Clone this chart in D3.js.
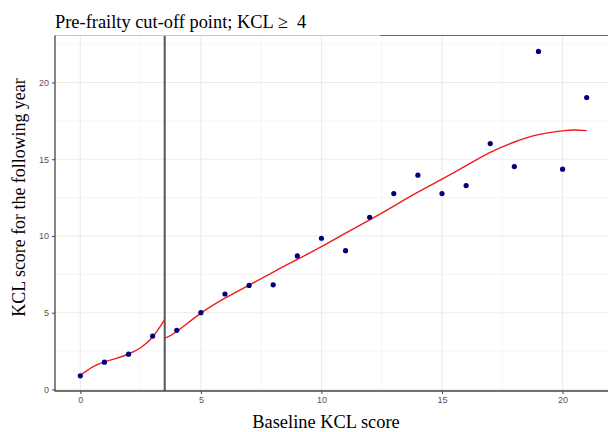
<!DOCTYPE html>
<html>
<head>
<meta charset="utf-8">
<script src="https://cdn.jsdelivr.net/npm/d3@7"></script>
<style>
    body { margin: 0; background: #fff; }
    svg { display: block; }
</style>
</head>
<body>
<svg width="608" height="432"></svg>
<script>
    // baseline KCL score and mean KCL score for the following year
    var baseline  = [0, 1, 2, 3, 4, 5, 6, 7, 8, 9, 10, 11, 12, 13, 14, 15, 16, 17, 18, 19, 20, 21],
        following = [0.89, 1.78, 2.30, 3.48, 3.85, 5.00, 6.22, 6.78, 6.82, 8.70, 9.85,
                     9.04, 11.22, 12.76, 13.96, 12.76, 13.28, 16.02, 14.52, 22.02, 14.35, 19.02];

    // smoothed fit, below and above the cut-off
    var cutOff   = 3.5,
        fitLowX  = [0, 0.5, 1, 1.5, 2, 2.5, 3, 3.5],
        fitLowY  = [0.92, 1.45, 1.80, 2.03, 2.31, 2.72, 3.42, 4.55],
        fitHighX = [3.5, 4, 5, 6, 7, 8, 9, 10, 11, 12, 13, 14, 15, 16, 17, 18, 19, 20, 20.5, 21],
        fitHighY = [3.33, 3.78, 4.97, 5.95, 6.80, 7.65, 8.47, 9.30, 10.18, 11.05, 11.95,
                    12.85, 13.70, 14.58, 15.45, 16.12, 16.60, 16.85, 16.90, 16.86];

    var xTicks = [0, 5, 10, 15, 20],
        yTicks = [0, 5, 10, 15, 20],
        xMinor = [2.5, 7.5, 12.5, 17.5],
        yMinor = [2.5, 7.5, 12.5, 17.5, 22.5];

    (function() {
        var svg     = d3.select("svg"),
            pLeft   = 55,
            pRight  = 612,
            pTop    = 35.5,
            pBottom = 391;

        var x = d3.scaleLinear().domain([-1.05, 22.05]).range([pLeft, pRight]),
            y = d3.scaleLinear().domain([-0.1, 23.06]).range([pBottom, pTop]);

        svg.append("clipPath").attr("id", "panel")
            .append("rect")
            .attr("x", pLeft).attr("y", pTop)
            .attr("width", 608 - pLeft).attr("height", pBottom - pTop);

        var panel = svg.append("g").attr("clip-path", "url(#panel)");

        // grid, minor lines thinner than major
        panel.selectAll(".gx-minor").data(xMinor).enter().append("line")
            .attr("x1", x).attr("x2", x).attr("y1", pTop).attr("y2", pBottom)
            .attr("stroke", "#f0f0f0").attr("stroke-width", 0.6);
        panel.selectAll(".gy-minor").data(yMinor).enter().append("line")
            .attr("y1", y).attr("y2", y).attr("x1", pLeft).attr("x2", 608)
            .attr("stroke", "#f0f0f0").attr("stroke-width", 0.6);
        panel.selectAll(".gx").data(xTicks).enter().append("line")
            .attr("x1", x).attr("x2", x).attr("y1", pTop).attr("y2", pBottom)
            .attr("stroke", "#ebebeb").attr("stroke-width", 1.1);
        panel.selectAll(".gy").data(yTicks).enter().append("line")
            .attr("y1", y).attr("y2", y).attr("x1", pLeft).attr("x2", 608)
            .attr("stroke", "#ebebeb").attr("stroke-width", 1.1);

        // top border, lighter on the left part as in the source picture
        svg.append("line").attr("x1", pLeft).attr("x2", 380).attr("y1", pTop).attr("y2", pTop)
            .attr("stroke", "#c8c8c8").attr("stroke-width", 1);
        svg.append("line").attr("x1", 380).attr("x2", 608).attr("y1", pTop).attr("y2", pTop)
            .attr("stroke", "#6a6a6a").attr("stroke-width", 1);

        // cut-off line
        panel.append("line")
            .attr("x1", x(cutOff)).attr("x2", x(cutOff))
            .attr("y1", pTop).attr("y2", pBottom)
            .attr("stroke", "#555").attr("stroke-width", 2);

        var line = d3.line()
            .x(function(d) { return x(d[0]); })
            .y(function(d) { return y(d[1]); })
            .curve(d3.curveNatural);

        [d3.zip(fitLowX, fitLowY), d3.zip(fitHighX, fitHighY)].forEach(function(seg) {
            panel.append("path")
                .datum(seg)
                .attr("d", line)
                .attr("fill", "none")
                .attr("stroke", "#ee1c1c")
                .attr("stroke-width", 1.4);
        });

        panel.selectAll("circle")
            .data(d3.zip(baseline, following))
            .enter().append("circle")
            .attr("cx", function(d) { return x(d[0]); })
            .attr("cy", function(d) { return y(d[1]); })
            .attr("r", 2.6)
            .style("fill", "#00007a");

        // axes
        var xAxis = svg.append("g")
            .attr("transform", "translate(0," + pBottom + ")")
            .call(d3.axisBottom(x).tickValues(xTicks).tickSize(3).tickPadding(3));
        var yAxis = svg.append("g")
            .attr("transform", "translate(" + pLeft + ",0)")
            .call(d3.axisLeft(y).tickValues(yTicks).tickSize(3).tickPadding(3));

        [xAxis, yAxis].forEach(function(a) {
            a.select(".domain").attr("stroke", "#444").attr("stroke-width", 1.3);
            a.selectAll(".tick line").attr("stroke", "#444").attr("stroke-width", 1);
            a.selectAll("text")
                .attr("fill", "#555")
                .style("font-family", "'Liberation Sans', Arial, sans-serif")
                .style("font-size", "9px");
        });
        xAxis.select(".domain").attr("d", "M" + pLeft + ",0H608");
        yAxis.select(".domain").attr("d", "M0," + pTop + "V" + (pBottom + 0.6));

        // titles
        var serif = "'Liberation Serif', 'Times New Roman', serif";

        svg.append("text")
            .attr("x", pLeft).attr("y", 28)
            .attr("xml:space", "preserve")
            .style("font-family", serif).style("font-size", "18.4px")
            .attr("fill", "#000")
            .text("Pre-frailty cut-off point; KCL \u2265  4");

        svg.append("text")
            .attr("x", 326).attr("y", 428)
            .attr("text-anchor", "middle")
            .style("font-family", serif).style("font-size", "18.4px")
            .text("Baseline KCL score");

        svg.append("text")
            .attr("transform", "translate(25,197.5) rotate(-90)")
            .attr("text-anchor", "middle")
            .style("font-family", serif).style("font-size", "17.9px")
            .text("KCL score for the following year");
    })();
</script>
</body>
</html>
